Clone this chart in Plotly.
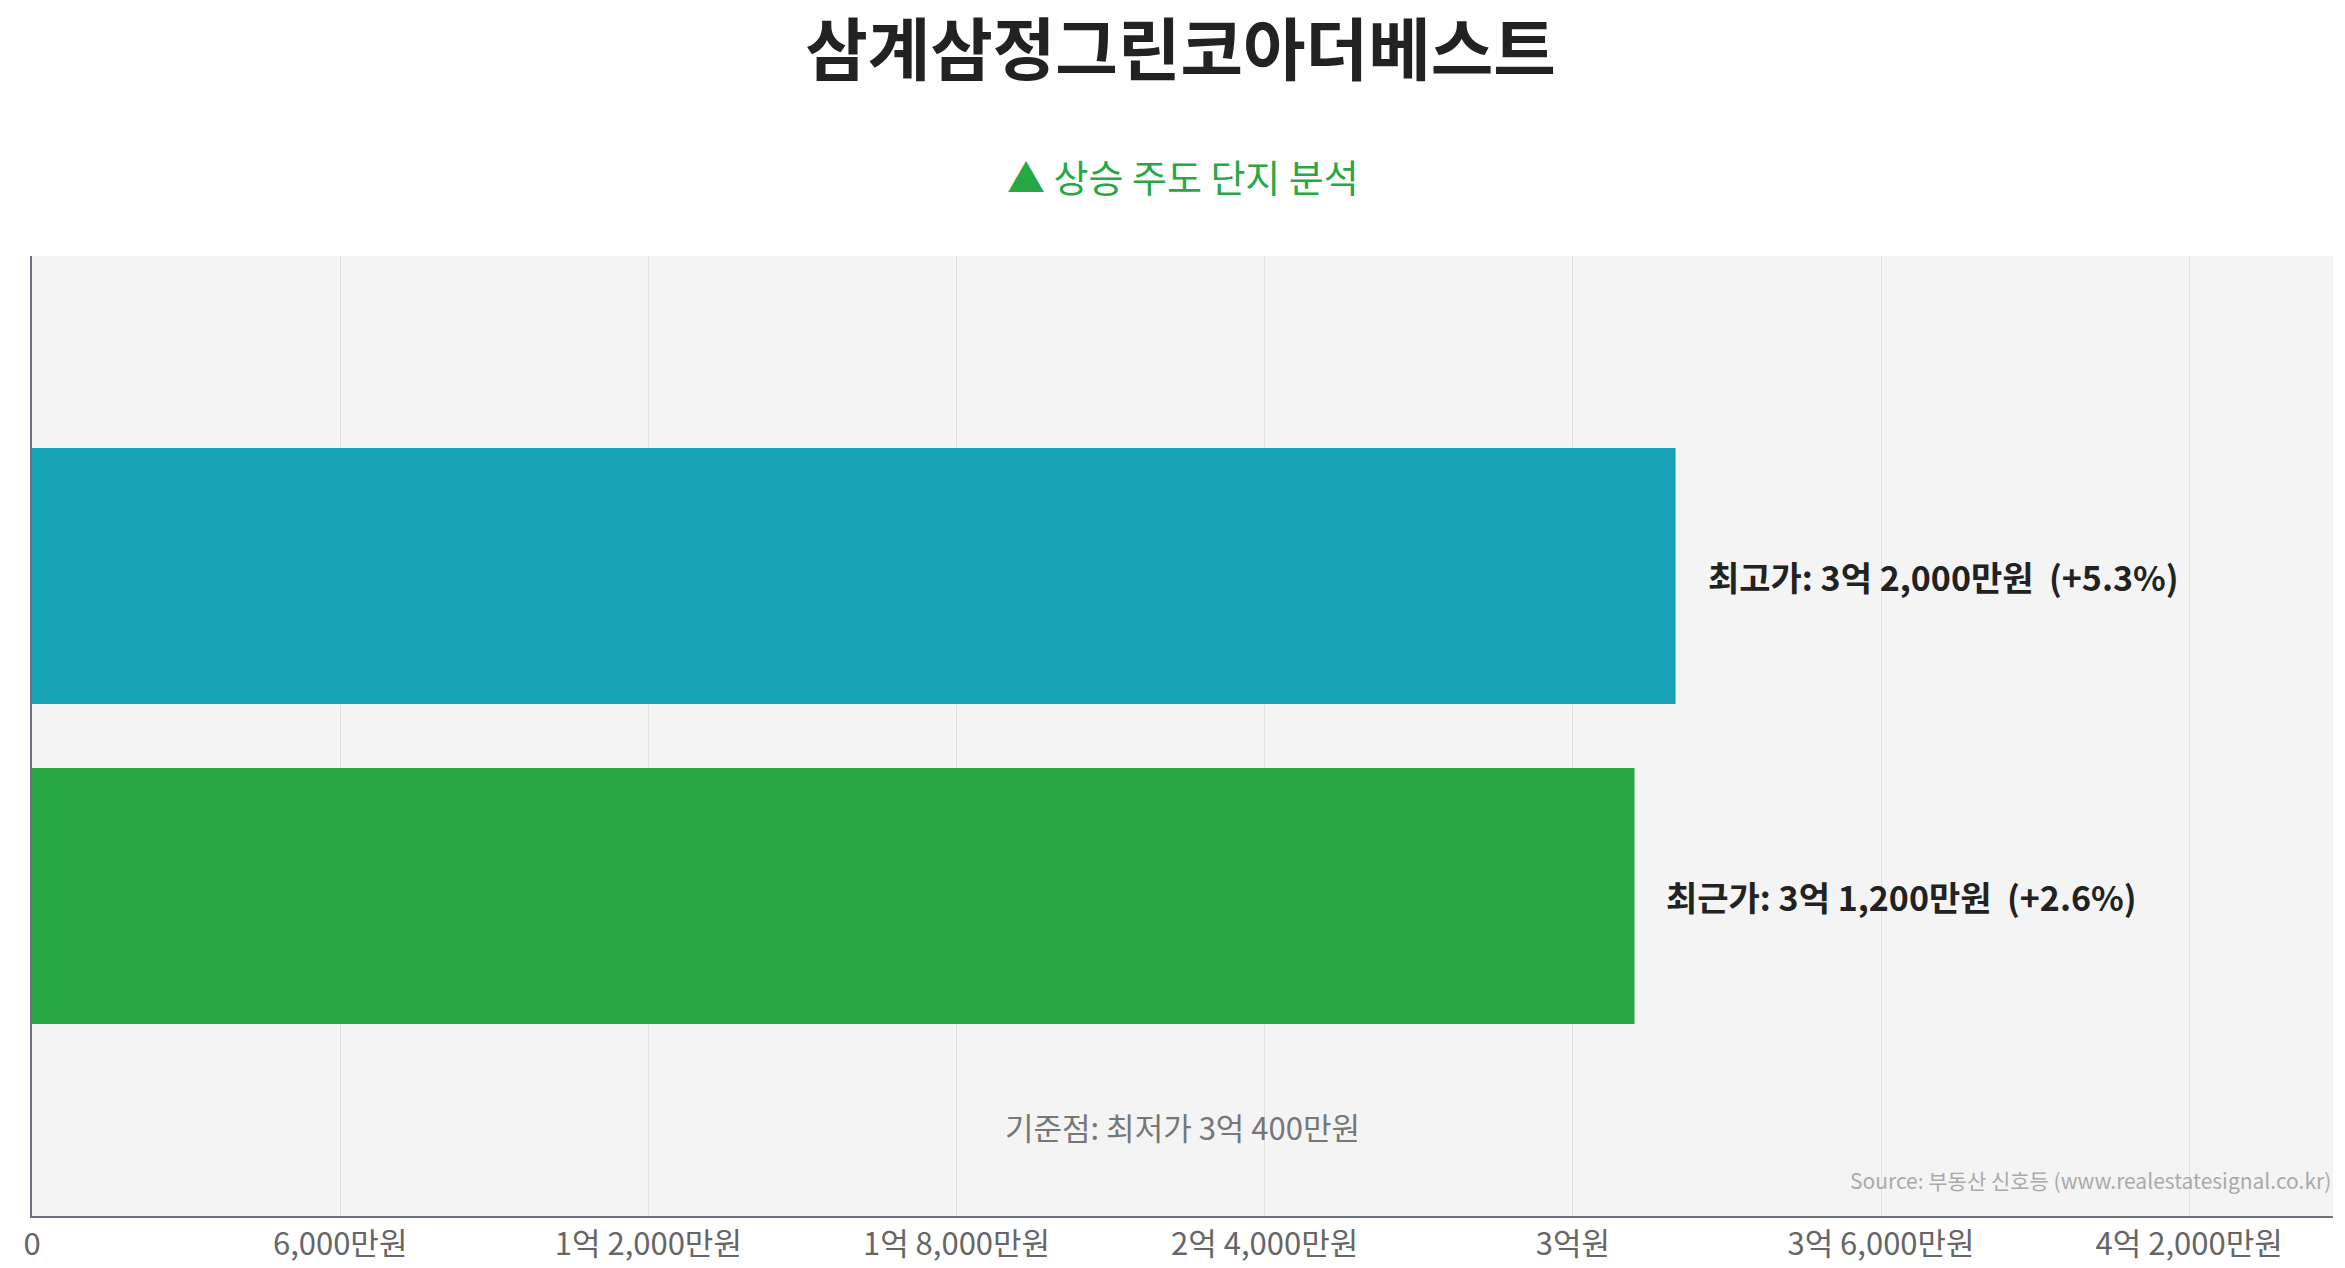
import plotly.graph_objects as go

# values in 만원
names = ["최근가", "최고가"]
prices = [31200, 32000]
pct = ["+2.6%", "+5.3%"]
price_text = ["3억 1,200만원", "3억 2,000만원"]
colors = ["#28a745", "#17a2b8"]
base_price = 30400
tick_vals = [0, 6000, 12000, 18000, 24000, 30000, 36000, 42000]
tick_text = ["0", "6,000만원", "1억 2,000만원", "1억 8,000만원", "2억 4,000만원",
             "3억원", "3억 6,000만원", "4억 2,000만원"]

FONT = "Noto Sans CJK KR"

fig = go.Figure()
fig.add_trace(go.Bar(
    x=prices, y=[0, 1], orientation="h", width=0.8,
    marker=dict(color=colors, line=dict(width=0)),
    hoverinfo="skip",
))

# value labels to the right of each bar
for yv, n, p, c, v in zip([0, 1], names, price_text, pct, prices):
    fig.add_annotation(x=v, y=yv, xanchor="left", xshift=30, showarrow=False,
                       text=f"<b>{n}: {p}  ({c})</b>",
                       font=dict(size=34, color="#222", family=FONT))

fig.add_annotation(x=0.5, xref="paper", y=-0.72, yref="y",
                   text="기준점: 최저가 3억 400만원", showarrow=False,
                   font=dict(size=31, color="#777", family=FONT))
fig.add_annotation(x=1.0, xref="paper", y=0.02, yref="paper", xanchor="right",
                   yanchor="bottom", text="Source: 부동산 신호등 (www.realestatesignal.co.kr)",
                   showarrow=False, font=dict(size=21, color="#aaa", family=FONT))
fig.add_annotation(x=0.5, xref="paper", y=1.115, yref="paper",
                   text="▲ 상승 주도 단지 분석", showarrow=False,
                   font=dict(size=38, color="#28a745", family=FONT))

fig.update_layout(
    width=2345, height=1268,
    paper_bgcolor="white", plot_bgcolor="#f4f4f4",
    margin=dict(l=24, r=20, t=248, b=58),
    title=dict(text="<b>삼계삼정그린코아더베스트</b>", x=0.5, y=0.985, yanchor="top",
               font=dict(size=68, color="#222", family=FONT)),
    showlegend=False,
    xaxis=dict(range=[0, 44800], tickvals=tick_vals, ticktext=tick_text,
               showgrid=True, gridcolor="#e2e2e2", zeroline=False,
               showline=True, linecolor="#6c7280", linewidth=2,
               tickfont=dict(size=31, color="#666", family=FONT)),
    yaxis=dict(range=[-1, 2], showticklabels=False, showgrid=False, zeroline=False,
               showline=True, linecolor="#6c7280", linewidth=2),
)

fig.write_html("out.html")
